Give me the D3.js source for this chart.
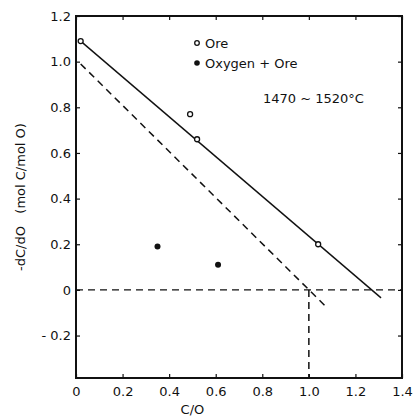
<!DOCTYPE html>
<html>
<head>
<meta charset="utf-8">
<script src="https://cdn.jsdelivr.net/npm/d3@7"></script>
<style>
body { margin: 0; background: #fff; }
text { font-family: "DejaVu Sans", sans-serif; fill: #111; white-space: pre; }
</style>
</head>
<body>
<svg width="413" height="416"></svg>
<script>
// data
var oreX = [0.02, 0.49, 0.52, 1.04];
var oreY = [1.09, 0.77, 0.66, 0.20];
var oxyX = [0.35, 0.61];
var oxyY = [0.19, 0.11];
var solidLineX = [0.02, 1.31];
var solidLineY = [1.09, -0.035];
var dashLineX = [0.02, 1.08];
var dashLineY = [0.99, -0.08];
var xTicks = [0, 0.2, 0.4, 0.6, 0.8, 1.0, 1.2, 1.4];
var yTicks = [-0.2, 0, 0.2, 0.4, 0.6, 0.8, 1.0, 1.2];

var svg = d3.select("svg");
var x = d3.scaleLinear().domain([0, 1.4]).range([76, 402]);
var y = d3.scaleLinear().domain([-0.386, 1.2]).range([378, 16]);

var fmt = function(d) {
  if (d === 0) return "0";
  if (d < 0) return "- " + (-d).toFixed(1);
  return d.toFixed(1);
};

// frame
svg.append("rect")
  .attr("x", x(0)).attr("y", y(1.2))
  .attr("width", x(1.4) - x(0)).attr("height", y(-0.386) - y(1.2))
  .attr("fill", "none").attr("stroke", "#111").attr("stroke-width", 2);

svg.append("g")
  .attr("transform", "translate(0," + y(-0.386) + ")")
  .call(d3.axisBottom(x).tickValues(xTicks).tickFormat(fmt).tickSizeInner(-4).tickSizeOuter(0).tickPadding(9));
svg.append("g")
  .attr("transform", "translate(" + x(0) + ",0)")
  .call(d3.axisLeft(y).tickValues(yTicks).tickFormat(fmt).tickSizeInner(-4).tickSizeOuter(0).tickPadding(5));
svg.append("g")
  .attr("transform", "translate(0," + y(1.2) + ")")
  .call(d3.axisTop(x).tickValues(xTicks).tickFormat("").tickSizeInner(-4).tickSizeOuter(0));
svg.append("g")
  .attr("transform", "translate(" + x(1.4) + ",0)")
  .call(d3.axisRight(y).tickValues(yTicks).tickFormat("").tickSizeInner(-4).tickSizeOuter(0));

svg.selectAll(".domain").attr("stroke", "none");
svg.selectAll(".tick line").attr("stroke", "#111").attr("stroke-width", 1.2);
svg.selectAll(".tick text").attr("font-size", 13).attr("fill", "#111");

// reference dashed lines
var dash = "7,5";
svg.append("line")
  .attr("x1", x(0)).attr("x2", x(1.4)).attr("y1", y(0)).attr("y2", y(0))
  .attr("stroke", "#111").attr("stroke-width", 1.3).attr("stroke-dasharray", dash);
svg.append("line")
  .attr("x1", x(1.0)).attr("x2", x(1.0)).attr("y1", y(0)).attr("y2", y(-0.386))
  .attr("stroke", "#111").attr("stroke-width", 1.5).attr("stroke-dasharray", dash);

var line = d3.line()
  .x(function(d) { return x(d[0]); })
  .y(function(d) { return y(d[1]); });

svg.append("path")
  .datum(d3.zip(solidLineX, solidLineY))
  .attr("fill", "none").attr("stroke", "#111").attr("stroke-width", 1.4)
  .attr("d", line);
svg.append("path")
  .datum(d3.zip(dashLineX, dashLineY))
  .attr("fill", "none").attr("stroke", "#111").attr("stroke-width", 1.5)
  .attr("stroke-dasharray", dash)
  .attr("d", line);

// points
svg.selectAll(".ore")
  .data(d3.zip(oreX, oreY))
  .enter().append("circle")
  .attr("cx", function(d) { return x(d[0]); })
  .attr("cy", function(d) { return y(d[1]); })
  .attr("r", 2.5)
  .attr("fill", "#fff").attr("stroke", "#111").attr("stroke-width", 1.3);
svg.selectAll(".oxy")
  .data(d3.zip(oxyX, oxyY))
  .enter().append("circle")
  .attr("cx", function(d) { return x(d[0]); })
  .attr("cy", function(d) { return y(d[1]); })
  .attr("r", 3)
  .attr("fill", "#111");

// legend
svg.append("circle").attr("cx", 197).attr("cy", 43).attr("r", 2.3)
  .attr("fill", "#fff").attr("stroke", "#111").attr("stroke-width", 1.3);
svg.append("text").attr("x", 205).attr("y", 48).attr("font-size", 13).text("Ore");
svg.append("circle").attr("cx", 197).attr("cy", 63).attr("r", 2.8).attr("fill", "#111");
svg.append("text").attr("x", 205).attr("y", 68).attr("font-size", 13).text("Oxygen + Ore");
svg.append("text").attr("x", 263).attr("y", 103).attr("font-size", 13).text("1470 ~ 1520°C");

// axis titles
svg.append("text")
  .attr("x", x(0.5)).attr("y", 414)
  .attr("text-anchor", "middle").attr("font-size", 13)
  .text("C/O");
svg.append("text")
  .attr("transform", "translate(25,197) rotate(-90)")
  .attr("text-anchor", "middle").attr("font-size", 13)
  .text("-dC/dO   (mol C/mol O)");
</script>
</body>
</html>
